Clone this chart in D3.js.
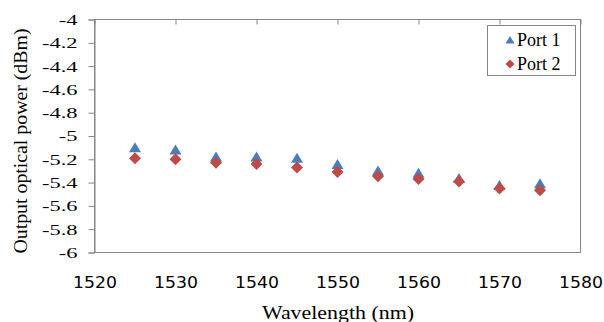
<!DOCTYPE html>
<html>
<head>
<meta charset="utf-8">
<script src="https://cdn.jsdelivr.net/npm/d3@7"></script>
<style>
  body { margin: 0; background: #fff; }
  svg { display: block; }
</style>
</head>
<body>
<div id="chart"></div>
<script>
// wavelength (nm)
const wavelengths = [1525, 1530, 1535, 1540, 1545, 1550, 1555, 1560, 1565, 1570, 1575];
// output optical power (dBm)
const port1 = [-5.10, -5.12, -5.18, -5.18, -5.19, -5.245, -5.30, -5.32, -5.365, -5.425, -5.41];
const port2 = [-5.19, -5.20, -5.23, -5.24, -5.27, -5.31, -5.345, -5.37, -5.39, -5.45, -5.465];
const xTicks = [1520, 1530, 1540, 1550, 1560, 1570, 1580];
const yTicks = [-6, -5.8, -5.6, -5.4, -5.2, -5, -4.8, -4.6, -4.4, -4.2, -4];
const seriesNames = ['Port 1', 'Port 2'];

const width = 604, height = 322;
const plotLeft = 94.5, plotRight = 580.5, plotTop = 19.5, plotBottom = 252.5;
const gray = '#868686';
const blue = '#4A7EBB', red = '#BE4B48';
const serifFont = "Liberation Serif, Tinos, Times New Roman, DejaVu Serif, serif";

const svg = d3.select('#chart').append('svg')
  .attr('width', width).attr('height', height);

const x = d3.scaleLinear().domain([1520, 1580]).range([plotLeft, plotRight]);
const y = d3.scaleLinear().domain([-6, -4]).range([plotBottom, plotTop]);

// widen tick text horizontally, keeping its anchor point (reference glyphs are wide)
function widen(sel, k) {
  sel.each(function () {
    const t = d3.select(this);
    const ax = +t.attr('x') || 0;
    t.attr('x', 0).attr('transform', `translate(${ax},0) scale(${k},1)`);
  });
}

// plot area border
svg.append('rect')
  .attr('x', plotLeft).attr('y', plotTop)
  .attr('width', plotRight - plotLeft).attr('height', plotBottom - plotTop)
  .attr('fill', 'none').attr('stroke', gray);

// y axis
const yAxis = svg.append('g')
  .attr('transform', `translate(${plotLeft},0)`)
  .call(d3.axisLeft(y).tickValues(yTicks).tickSize(6).tickPadding(11)
    .tickFormat(d => String(+d.toFixed(1))));
yAxis.attr('font-family', null).attr('font-size', null);
yAxis.select('.domain').attr('stroke', gray);
yAxis.selectAll('.tick line').attr('stroke', gray);
yAxis.selectAll('.tick text')
  .attr('fill', '#000')
  .style('font-family', serifFont)
  .style('font-size', '15.5px')
  .call(widen, 1.45);

// top tick marks pointing inward
const xTop = svg.append('g')
  .attr('transform', `translate(0,${plotTop})`)
  .call(d3.axisBottom(x).tickValues(xTicks).tickSize(5).tickFormat(''));
xTop.select('.domain').remove();
xTop.selectAll('.tick line').attr('stroke', gray);

// x tick labels below the plot
const xBot = svg.append('g')
  .attr('transform', `translate(0,${plotBottom})`)
  .call(d3.axisBottom(x).tickValues(xTicks).tickSize(0).tickPadding(24)
    .tickFormat(d3.format('d')));
xBot.attr('font-family', null).attr('font-size', null);
xBot.select('.domain').remove();
xBot.selectAll('.tick text')
  .attr('fill', '#000')
  .style('font-family', 'DejaVu Sans, Verdana, sans-serif')
  .style('font-size', '16px')
  .call(widen, 1.08);

// axis titles
svg.append('text')
  .attr('x', 338).attr('y', 319)
  .attr('text-anchor', 'middle')
  .style('font-family', serifFont)
  .style('font-size', '19px')
  .attr('textLength', 152).attr('lengthAdjust', 'spacingAndGlyphs')
  .text('Wavelength (nm)');

svg.append('text')
  .attr('transform', 'translate(27,141) rotate(-90)')
  .attr('text-anchor', 'middle')
  .style('font-family', serifFont)
  .style('font-size', '19px')
  .attr('textLength', 225).attr('lengthAdjust', 'spacingAndGlyphs')
  .text('Output optical power (dBm)');

// markers
const triPath = 'M0,-5.5L6,4.5L-6,4.5Z';
const diaPath = 'M0,-6L6,0L0,6L-6,0Z';

svg.append('g').selectAll('path')
  .data(wavelengths.map((w, i) => ({ w, v: port1[i] })))
  .join('path')
  .attr('d', triPath)
  .attr('transform', d => `translate(${x(d.w)},${y(d.v)})`)
  .attr('fill', blue);

svg.append('g').selectAll('path')
  .data(wavelengths.map((w, i) => ({ w, v: port2[i] })))
  .join('path')
  .attr('d', diaPath)
  .attr('transform', d => `translate(${x(d.w)},${y(d.v)})`)
  .attr('fill', red);

// legend
const legend = svg.append('g');
legend.append('rect')
  .attr('x', 487.5).attr('y', 25.5).attr('width', 88).attr('height', 50)
  .attr('fill', '#fff').attr('stroke', gray);

const legendItems = [
  { name: seriesNames[0], path: 'M0,-4L4.5,3.5L-4.5,3.5Z', color: blue },
  { name: seriesNames[1], path: 'M0,-4.5L4.5,0L0,4.5L-4.5,0Z', color: red }
];
const li = legend.selectAll('g.item').data(legendItems).join('g')
  .attr('class', 'item')
  .attr('transform', (d, i) => `translate(510,${40 + i * 24})`);
li.append('path').attr('d', d => d.path).attr('fill', d => d.color);
li.append('text')
  .attr('x', 7).attr('y', 5.5)
  .style('font-family', serifFont)
  .style('font-size', '18px')
  .text(d => d.name);
</script>
</body>
</html>
